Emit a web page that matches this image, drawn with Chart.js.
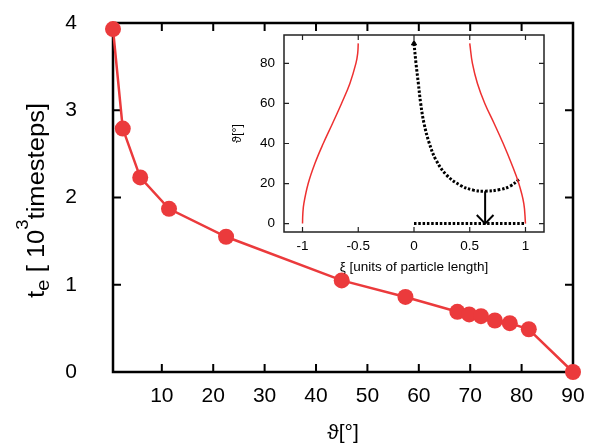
<!DOCTYPE html>
<html>
<head>
<meta charset="utf-8">
<script src="https://cdn.jsdelivr.net/npm/chart.js@4.4.0/dist/chart.umd.min.js"></script>
<style>
  html, body { margin: 0; padding: 0; background: #fff; }
  #wrap { position: relative; width: 590px; height: 446px; }
  #mainChart { position: absolute; left: 0; top: 0; }
  #insetChart { position: absolute; left: 220px; top: 30px; }
</style>
</head>
<body>
<div id="wrap">
  <canvas id="mainChart" width="590" height="446"></canvas>
  <canvas id="insetChart" width="330" height="250"></canvas>
</div>
<script>
// main plot: escape time against initial angle
const angles = [0.5, 2.4, 5.8, 11.4, 22.5, 45.0, 57.4, 67.5, 69.8, 72.1, 74.8, 77.7, 81.4, 90];
const escapeTimes = [3.93, 2.79, 2.23, 1.87, 1.55, 1.05, 0.86, 0.69, 0.66, 0.64, 0.59, 0.56, 0.49, 0];
const angleTicks = [10, 20, 30, 40, 50, 60, 70, 80, 90];
const timeTicks = [0, 1, 2, 3, 4];

// inset: boundaries and trajectory in (xi, theta)
const leftEdgeXi = [-1, -0.997, -0.988, -0.949, -0.889, -0.814, -0.731, -0.650, -0.575, -0.521, -0.505, -0.5];
const leftEdgeTheta = [0, 5, 10, 20, 30, 40, 50, 60, 70, 80, 85, 90];
const rightEdgeXi = [1, 0.985, 0.94, 0.874, 0.80, 0.719, 0.635, 0.569, 0.524, 0.5];
const rightEdgeTheta = [0, 10, 20, 30, 40, 50, 60, 70, 80, 90];
const pathXi = [0, 0.018, 0.039, 0.060, 0.090, 0.138, 0.198, 0.293, 0.413, 0.533, 0.638, 0.772, 0.862, 0.943];
const pathTheta = [90, 80, 70, 60, 50, 40, 31.7, 24.2, 19.2, 16.7, 16.2, 17, 18.7, 22];
const baseXi = [0, 1];
const baseTheta = [0, 0];
const arrowXi = [0.638, 0.638];
const arrowTheta = [16.2, 0.4];
const arrowHeadXi = [0.563, 0.638, 0.713];
const arrowHeadTheta = [4.3, 0, 4.3];
const xiTicks = [-1, -0.5, 0, 0.5, 1];
const xiTickLabels = ['-1', '-0.5', '0', '0.5', '1'];
const thetaTicks = [0, 20, 40, 60, 80];

const FONT = "'Liberation Sans', Arial, Helvetica, 'DejaVu Sans', sans-serif";
const red = '#eb3a3c';

function toPoints(xs, ys) {
    return xs.map((x, i) => ({ x: x, y: ys[i] }));
}

// fixed scale size, and no extra room asked for tick labels
function fixSize(size) {
    return s => {
        if (s.isHorizontal()) s.height = size; else s.width = size;
        s.paddingTop = s.paddingBottom = s.paddingLeft = s.paddingRight = 0;
    };
}

// box around the plot area with inward ticks on all four sides
const framePlugin = {
    id: 'frame',
    beforeDatasetsDraw(chart, args, opts) {
        const { ctx, chartArea: a } = chart;
        const x = chart.scales.x, y = chart.scales.y;
        ctx.save();
        if (opts.fill) {
            ctx.fillStyle = opts.fill;
            ctx.fillRect(a.left, a.top, a.width, a.height);
        }
        ctx.strokeStyle = opts.color;
        ctx.lineWidth = opts.tickWidth;
        ctx.beginPath();
        x.ticks.forEach(t => {
            const px = x.getPixelForValue(t.value);
            ctx.moveTo(px, a.bottom); ctx.lineTo(px, a.bottom - opts.tickLength);
            ctx.moveTo(px, a.top); ctx.lineTo(px, a.top + opts.tickLength);
        });
        y.ticks.forEach(t => {
            const py = y.getPixelForValue(t.value);
            ctx.moveTo(a.left, py); ctx.lineTo(a.left + opts.tickLength, py);
            ctx.moveTo(a.right, py); ctx.lineTo(a.right - opts.tickLength, py);
        });
        ctx.stroke();
        ctx.lineWidth = opts.width;
        ctx.strokeRect(a.left, a.top, a.width, a.height);
        ctx.restore();
    }
};

// y title with subscript and superscript
const yTitlePlugin = {
    id: 'yTitle',
    afterDraw(chart, args, o) {
        const ctx = chart.ctx;
        const parts = [
            { t: 't', size: 23.5, dy: 0 },
            { t: 'e', size: 19, dy: 5 },
            { t: ' [ 10', size: 23.5, dy: 0 },
            { t: '3', size: 17, dy: -16 },
            { t: 'timesteps]', size: 23.5, dy: 0 }
        ];
        ctx.save();
        let total = 0;
        parts.forEach(p => {
            ctx.font = p.size + 'px ' + FONT;
            p.w = ctx.measureText(p.t).width;
            total += p.w;
        });
        ctx.translate(o.x, o.bottom);
        ctx.rotate(-Math.PI / 2);
        ctx.scale((o.bottom - o.top) / total, 1);
        ctx.fillStyle = '#000';
        ctx.textBaseline = 'alphabetic';
        let pos = 0;
        parts.forEach(p => {
            ctx.font = p.size + 'px ' + FONT;
            ctx.fillText(p.t, pos, p.dy);
            pos += p.w;
        });
        ctx.restore();
    }
};

new Chart(document.getElementById('mainChart'), {
    type: 'line',
    data: {
        datasets: [{
            data: toPoints(angles, escapeTimes),
            borderColor: red,
            backgroundColor: red,
            borderWidth: 2.5,
            pointRadius: 8,
            pointHoverRadius: 8,
            pointBorderWidth: 0,
            tension: 0,
            clip: false
        }]
    },
    options: {
        responsive: false,
        animation: false,
        events: [],
        layout: { padding: { top: 23, right: 17, left: 0, bottom: 0 } },
        plugins: {
            legend: { display: false },
            tooltip: { enabled: false },
            frame: { color: '#000', width: 2.5, tickWidth: 2, tickLength: 8 },
            yTitle: { x: 43.5, top: 103, bottom: 298 }
        },
        scales: {
            x: {
                type: 'linear',
                min: 0.5,
                max: 90,
                afterBuildTicks: s => { s.ticks = angleTicks.map(v => ({ value: v })); },
                afterFit: fixSize(74),
                grid: { display: false, drawTicks: false },
                border: { display: false },
                ticks: { font: { family: FONT, size: 21 }, color: '#000', padding: 12, maxRotation: 0, autoSkip: false },
                title: { display: true, text: 'ϑ[°]', color: '#000', font: { family: FONT, size: 21 }, padding: { top: 0, bottom: 0 } }
            },
            y: {
                type: 'linear',
                min: 0,
                max: 4,
                afterBuildTicks: s => { s.ticks = timeTicks.map(v => ({ value: v })); },
                afterFit: fixSize(113),
                grid: { display: false, drawTicks: false },
                border: { display: false },
                ticks: { font: { family: FONT, size: 21 }, color: '#000', padding: 36, autoSkip: false }
            }
        }
    },
    plugins: [framePlugin, yTitlePlugin]
});

const lineStyle = { pointRadius: 0, pointHoverRadius: 0, fill: false, clip: false };

new Chart(document.getElementById('insetChart'), {
    type: 'line',
    data: {
        datasets: [
            Object.assign({ data: toPoints(leftEdgeXi, leftEdgeTheta), borderColor: '#ee3030', borderWidth: 1.5, tension: 0.4 }, lineStyle),
            Object.assign({ data: toPoints(rightEdgeXi, rightEdgeTheta), borderColor: '#ee3030', borderWidth: 1.5, tension: 0.4 }, lineStyle),
            Object.assign({ data: toPoints(pathXi, pathTheta), borderColor: '#000', borderWidth: 3, borderDash: [2.5, 1.8], tension: 0.4 }, lineStyle),
            Object.assign({ data: toPoints(baseXi, baseTheta), borderColor: '#000', borderWidth: 3, borderDash: [2.5, 1.8] }, lineStyle),
            Object.assign({ data: toPoints(arrowXi, arrowTheta), borderColor: '#000', borderWidth: 2 }, lineStyle),
            Object.assign({ data: toPoints(arrowHeadXi, arrowHeadTheta), borderColor: '#000', borderWidth: 2, tension: 0 }, lineStyle),
            {
                data: toPoints([pathXi[0]], [pathTheta[0]]),
                showLine: false,
                pointStyle: 'triangle',
                pointRadius: 3,
                backgroundColor: '#000',
                borderColor: '#000',
                clip: false
            }
        ]
    },
    options: {
        responsive: false,
        animation: false,
        events: [],
        layout: { padding: { top: 5, right: 6, left: 0, bottom: 0 } },
        plugins: {
            legend: { display: false },
            tooltip: { enabled: false },
            frame: { color: '#222', width: 1.5, tickWidth: 1.2, tickLength: 5, fill: '#fff' }
        },
        scales: {
            x: {
                type: 'linear',
                min: -1.166,
                max: 1.166,
                afterBuildTicks: s => { s.ticks = xiTicks.map(v => ({ value: v })); },
                afterFit: fixSize(48),
                grid: { display: false, drawTicks: false },
                border: { display: false },
                ticks: {
                    font: { family: FONT, size: 13.5 }, color: '#000', padding: 6, maxRotation: 0, autoSkip: false,
                    callback: (v, i) => xiTickLabels[i]
                },
                title: { display: true, text: 'ξ [units of particle length]', color: '#000', font: { family: FONT, size: 13.5 }, padding: { top: 0, bottom: 5 } }
            },
            y: {
                type: 'linear',
                min: -4.2,
                max: 94.2,
                afterBuildTicks: s => { s.ticks = thetaTicks.map(v => ({ value: v })); },
                afterFit: fixSize(64),
                grid: { display: false, drawTicks: false },
                border: { display: false },
                ticks: { font: { family: FONT, size: 13.5 }, color: '#000', padding: 9, autoSkip: false },
                title: { display: true, text: 'ϑ[°]', color: '#000', font: { family: FONT, size: 12.5 }, padding: { top: 10, bottom: 0 } }
            }
        }
    },
    plugins: [framePlugin]
});
</script>
</body>
</html>
